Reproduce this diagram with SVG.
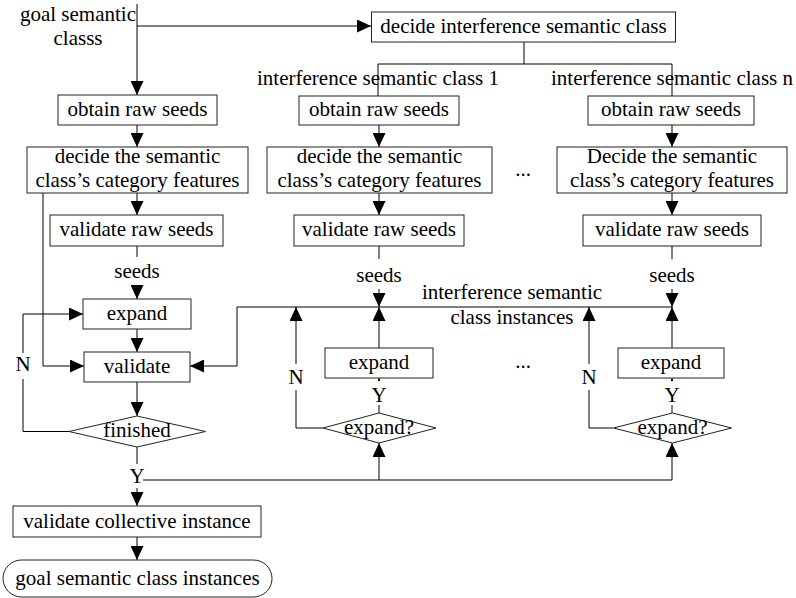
<svg xmlns="http://www.w3.org/2000/svg" width="796" height="598" viewBox="0 0 796 598">
<style>
text{font-family:"Liberation Serif","Times New Roman",serif;font-size:21px;fill:#000;text-anchor:middle}
.box{fill:#fff;stroke:#222;stroke-width:1}
.ln{fill:none;stroke:#000;stroke-width:1}
.arr{fill:none;stroke:#000;stroke-width:1;marker-end:url(#ah)}
.bg{fill:#fff;stroke:none}
</style>
<defs>
<marker id="ah" markerUnits="userSpaceOnUse" markerWidth="14" markerHeight="13" refX="14" refY="6.5" orient="auto">
<path d="M0,0 L14,6.5 L0,13 z" fill="#000"/>
</marker>
</defs>
<rect width="796" height="598" fill="#fff"/>

<g id="connectors">
<path class="arr" d="M137,4 V95"/>
<path class="arr" d="M137,26 H371"/>
<path class="ln" d="M524,42 V64 M378,64 H672 M378,64 V96 M672,64 V96"/>
<!-- goal column -->
<path class="arr" d="M137,125 V147"/>
<path class="arr" d="M137,193 V215"/>
<path class="ln" d="M137,246 V257"/>
<path class="arr" d="M137,285 V299"/>
<path class="arr" d="M137,329 V352"/>
<path class="arr" d="M43,193 V366 H84"/>
<path class="arr" d="M137,382 V416"/>
<path class="arr" d="M69,431.5 H23 V314 H83"/>
<path class="ln" d="M137,447 V464"/>
<path class="ln" d="M143,480 H672"/>
<path class="arr" d="M137,488 V506"/>
<path class="arr" d="M137,537 V560"/>
<!-- column 1 -->
<path class="arr" d="M379,125 V147"/>
<path class="arr" d="M379,193 V215"/>
<path class="ln" d="M379,246 V259"/>
<path class="arr" d="M379,289 V307"/>
<path class="arr" d="M379,348 V307"/>
<path class="arr" d="M379,413 V378"/>
<path class="arr" d="M323,428 H296 V307"/>
<path class="arr" d="M379,480 V443"/>
<path class="arr" d="M672,307 H237 V366 H190"/>
<!-- column n -->
<path class="arr" d="M672,125 V147"/>
<path class="arr" d="M672,193 V215"/>
<path class="ln" d="M672,246 V259"/>
<path class="arr" d="M672,289 V307"/>
<path class="arr" d="M672,348 V307"/>
<path class="arr" d="M672,413 V378"/>
<path class="arr" d="M613,428 H589 V307"/>
<path class="arr" d="M672,480 V443"/>
</g>

<g id="labels">
<text x="78" y="21">goal semantic</text>
<text x="78" y="45">classs</text>
<text x="378" y="85">interference semantic class 1</text>
<text x="672" y="85">interference semantic class n</text>
<text x="137" y="278">seeds</text>
<text x="379" y="282">seeds</text>
<text x="672" y="282">seeds</text>
<text x="512" y="299">interference semantic</text>
<text x="512" y="324">class instances</text>
<text x="523" y="176">...</text>
<text x="523" y="368">...</text>
<rect class="bg" x="14" y="353" width="18" height="26"/>
<text x="23" y="371">N</text>
<rect class="bg" x="287" y="364" width="18" height="26"/>
<text x="296" y="384">N</text>
<rect class="bg" x="580" y="364" width="18" height="26"/>
<text x="589" y="384">N</text>
<rect class="bg" x="371" y="381" width="16" height="24"/>
<text x="379" y="402">Y</text>
<rect class="bg" x="664" y="381" width="16" height="24"/>
<text x="672" y="402">Y</text>
<text x="137" y="483">Y</text>
</g>

<g id="goal-obtain"><rect class="box" x="58" y="95" width="159" height="30"/><text x="137.5" y="115.5">obtain raw seeds</text></g>
<g id="goal-decide"><rect class="box" x="27" y="147" width="221" height="46"/><text x="137.5" y="163">decide the semantic</text><text x="137.5" y="186.5">class’s category features</text></g>
<g id="goal-validate-raw"><rect class="box" x="50" y="215" width="173" height="31"/><text x="136.5" y="236">validate raw seeds</text></g>
<g id="goal-expand"><rect class="box" x="83" y="299" width="108" height="30"/><text x="137" y="319.5">expand</text></g>
<g id="goal-validate"><rect class="box" x="84" y="352" width="106" height="30"/><text x="137" y="373">validate</text></g>
<g id="finished"><polygon class="box" points="137,416 205.5,431.5 137,447 69,431.5"/><text x="137" y="437">finished</text></g>
<g id="validate-collective"><rect class="box" x="13" y="506" width="248" height="31"/><text x="137" y="528">validate collective instance</text></g>
<g id="goal-instances"><rect class="box" x="3" y="560" width="269" height="37" rx="18.5" ry="18.5"/><text x="137.5" y="585">goal semantic class instances</text></g>

<g id="decide-interference"><rect class="box" x="371.5" y="12" width="304" height="30"/><text x="523.5" y="33">decide interference semantic class</text></g>

<g id="c1-obtain"><rect class="box" x="299" y="96" width="160" height="29"/><text x="379" y="116">obtain raw seeds</text></g>
<g id="c1-decide"><rect class="box" x="267" y="147" width="225" height="46"/><text x="379.5" y="163">decide the semantic</text><text x="379.5" y="186.5">class’s category features</text></g>
<g id="c1-validate-raw"><rect class="box" x="294" y="215" width="170" height="31"/><text x="379" y="236">validate raw seeds</text></g>
<g id="c1-expand"><rect class="box" x="325" y="348" width="108" height="30"/><text x="379" y="368.5">expand</text></g>
<g id="c1-expand-q"><polygon class="box" points="379,413 436,428 379,443 323,428"/><text x="379" y="434">expand?</text></g>

<g id="cn-obtain"><rect class="box" x="588" y="96" width="166" height="29"/><text x="671" y="116">obtain raw seeds</text></g>
<g id="cn-decide"><rect class="box" x="557" y="147" width="230" height="46"/><text x="672" y="163">Decide the semantic</text><text x="672" y="186.5">class’s category features</text></g>
<g id="cn-validate-raw"><rect class="box" x="583" y="215" width="178" height="31"/><text x="672" y="236">validate raw seeds</text></g>
<g id="cn-expand"><rect class="box" x="618" y="348" width="106" height="30"/><text x="671" y="368.5">expand</text></g>
<g id="cn-expand-q"><polygon class="box" points="672.5,413 731.5,428 672.5,443 613.5,428"/><text x="672.5" y="434">expand?</text></g>
</svg>
